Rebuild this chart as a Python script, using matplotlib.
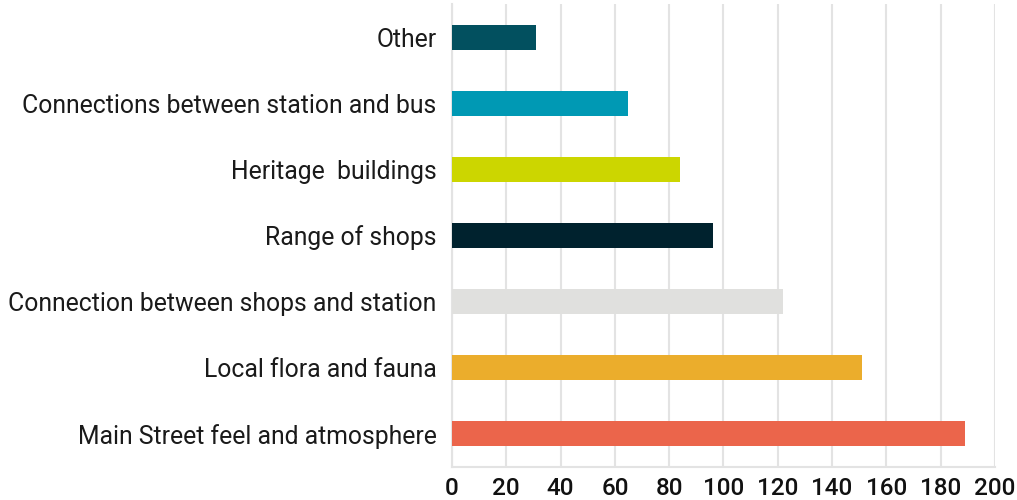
import matplotlib as mpl
import matplotlib.pyplot as plt

categories = ['Main Street feel and atmosphere', 'Local flora and fauna',
              'Connection between shops and station', 'Range of shops',
              'Heritage  buildings', 'Connections between station and bus', 'Other']
values = [189, 151, 122, 96, 84, 65, 31]
colors = ['#EB654B', '#EBAD2C', '#E0E0DE', '#00222E', '#CCD600', '#0099B4', '#02505F']
xticks = list(range(0, 201, 20))

mpl.rcParams['font.family'] = 'Roboto'

fig = plt.figure(figsize=(10.17, 5), dpi=100)
ax = fig.add_axes([0.4444, 0.066, 0.534, 0.926])

ax.barh(range(len(categories)), values, height=0.38, color=colors, zorder=3)

ax.set_xlim(0, 200)
ax.set_ylim(-0.5, len(categories) - 0.5)
ax.set_xticks(xticks)
ax.set_yticks(range(len(categories)))
ax.set_yticklabels(categories, fontsize=17.8, color='#1a1a1a')
for lbl in ax.get_xticklabels():
    lbl.set_fontsize(17.5)
    lbl.set_fontweight('medium')
    lbl.set_color('#111111')

ax.grid(axis='x', color='#e3e3e3', linewidth=1.5, zorder=0)
ax.tick_params(axis='y', length=0, pad=11)
ax.tick_params(axis='x', length=0, pad=7)
for side in ['top', 'right']:
    ax.spines[side].set_visible(False)
for side in ['left', 'bottom']:
    ax.spines[side].set_color('#e3e3e3')
    ax.spines[side].set_linewidth(1.5)

plt.savefig('out.png', dpi=100)
